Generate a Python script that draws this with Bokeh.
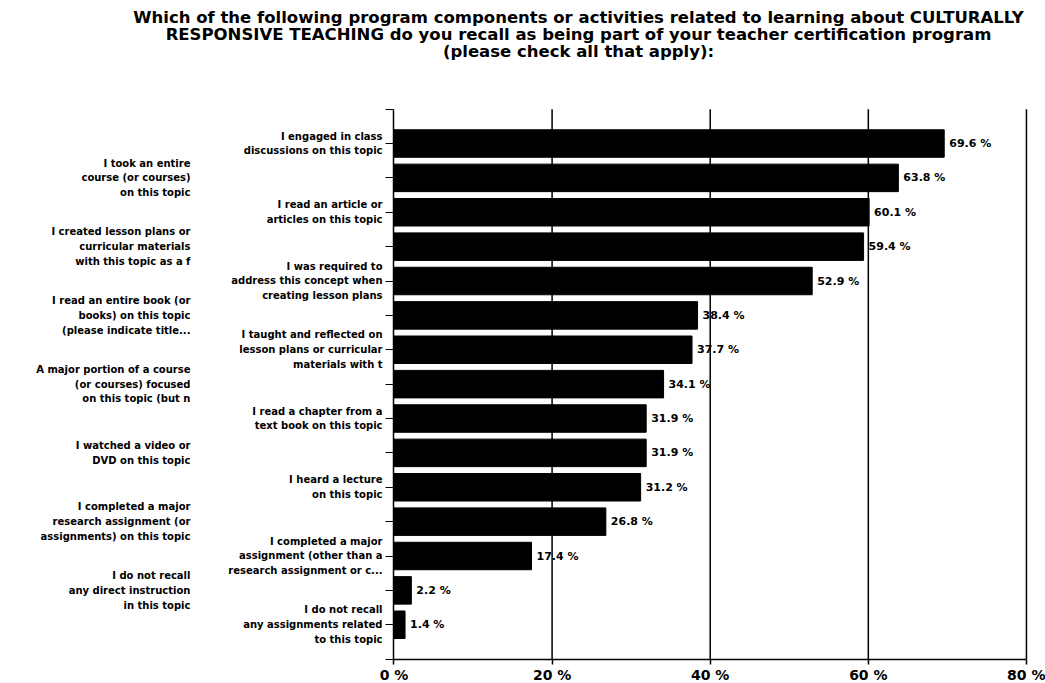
from bokeh.plotting import figure
from bokeh.models import Range1d, LinearAxis, FixedTicker, ColumnDataSource
from bokeh.core.properties import value
from bokeh.embed import file_html
from bokeh.resources import INLINE

title_lines = [
    "Which of the following program components or activities related to learning about CULTURALLY",
    "RESPONSIVE TEACHING do you recall as being part of your teacher certification program",
    "(please check all that apply):",
]

categories = [
    "I engaged in class\ndiscussions on this topic",
    "I took an entire\ncourse (or courses)\non this topic",
    "I read an article or\narticles on this topic",
    "I created lesson plans or\ncurricular materials\nwith this topic as a f",
    "I was required to\naddress this concept when\ncreating lesson plans",
    "I read an entire book (or\nbooks) on this topic\n(please indicate title...",
    "I taught and reflected on\nlesson plans or curricular\nmaterials with t",
    "A major portion of a course\n(or courses) focused\non this topic (but n",
    "I read a chapter from a\ntext book on this topic",
    "I watched a video or\nDVD on this topic",
    "I heard a lecture\non this topic",
    "I completed a major\nresearch assignment (or\nassignments) on this topic",
    "I completed a major\nassignment (other than a\nresearch assignment or c...",
    "I do not recall\nany direct instruction\nin this topic",
    "I do not recall\nany assignments related\nto this topic",
]

values = [69.6, 63.8, 60.1, 59.4, 52.9, 38.4, 37.7, 34.1, 31.9, 31.9, 31.2, 26.8, 17.4, 2.2, 1.4]

x_ticks = [0, 20, 40, 60, 80]
x_tick_labels = ["0 %", "20 %", "40 %", "60 %", "80 %"]

FONT = value("DejaVu Sans")

n = len(categories)
ypos = [n - 1 - i for i in range(n)]

p = figure(width=1045, height=683, output_backend="svg", toolbar_location=None,
           x_range=Range1d(-49.77, 82.41), y_range=Range1d(-1.709, 18.16),
           x_axis_location=None, y_axis_location=None, min_border=0,
           outline_line_color=None)
p.grid.visible = False

# vertical gridlines, limited to the plotting area
gx = x_ticks[1:]
p.segment(x0=gx, y0=[-1] * len(gx), x1=gx, y1=[n] * len(gx),
          line_color="black", line_width=1.5, level="underlay")

# bars
src = ColumnDataSource(dict(y=ypos, v=values,
                            lab=[f"{v:.1f} %" for v in values]))
p.hbar(y="y", left=0, right="v", height=0.8, source=src,
       fill_color="black", line_color="black")

# value labels
p.text(x="v", y="y", text="lab", source=src, x_offset=5,
       text_baseline="middle", text_align="left", text_font=FONT,
       text_font_style="bold", text_font_size="11px", text_color="black")

# category labels (staggered in two columns)
near = [i for i in range(n) if i % 2 == 0]
far = [i for i in range(n) if i % 2 == 1]
p.text(x=[-1.45] * len(near), y=[ypos[i] for i in near],
       text=[categories[i] for i in near], text_align="right",
       text_baseline="middle", text_font=FONT, text_font_style="bold",
       text_font_size="10px", text_line_height=1.35, text_color="black")
p.text(x=[-25.74] * len(far), y=[ypos[i] for i in far],
       text=[categories[i] for i in far], text_align="right",
       text_baseline="middle", text_font=FONT, text_font_style="bold",
       text_font_size="10px", text_line_height=1.35, text_color="black")

# title
p.text(x=[23.34] * 3, y=[17.665, 17.17, 16.676], text=title_lines,
       text_align="center", text_baseline="middle", text_font=FONT,
       text_font_style="bold", text_font_size="16.5px", text_color="black")

# axes
xaxis = LinearAxis(fixed_location=-1, bounds=(0, 80),
                   ticker=FixedTicker(ticks=x_ticks),
                   major_label_overrides={t: l for t, l in zip(x_ticks, x_tick_labels)},
                   axis_line_color="black", axis_line_width=1.5,
                   major_tick_out=5, major_tick_in=0, major_tick_line_width=1.5,
                   minor_tick_out=0, minor_tick_in=0,
                   major_label_standoff=3,
                   major_label_text_font="DejaVu Sans",
                   major_label_text_font_style="bold",
                   major_label_text_font_size="14px",
                   major_label_text_color="black")
p.add_layout(xaxis, "below")

yaxis = LinearAxis(fixed_location=0, bounds=(-1, n),
                   ticker=FixedTicker(ticks=[-1] + ypos + [n]),
                   axis_line_color="black", axis_line_width=1.5,
                   major_tick_out=8, major_tick_in=0, major_tick_line_width=1.2,
                   minor_tick_out=0, minor_tick_in=0,
                   major_label_text_font_size="0px",
                   major_label_text_color=None)
p.add_layout(yaxis, "left")

open("out.html", "w").write(file_html(p, INLINE))
